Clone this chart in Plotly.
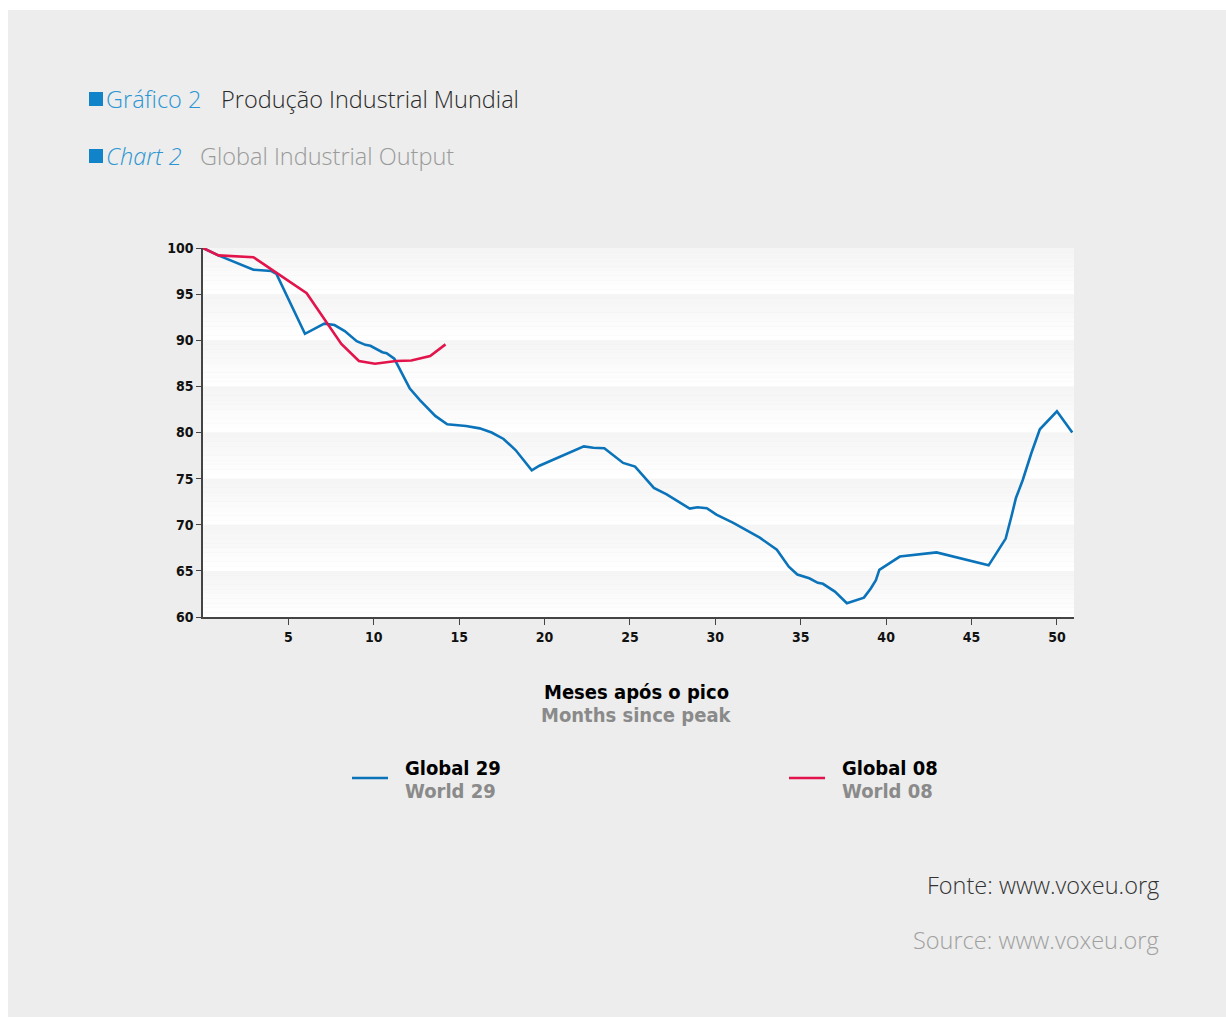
import plotly.graph_objects as go

# ---------------- data ----------------
months_29 = [0, 0.9, 2.95, 4.0, 4.3, 5.97, 7.1, 7.7, 8.3, 9.0, 9.5, 9.8, 10.5, 10.75,
             11.2, 12.1, 12.7, 13.6, 14.3, 15.4, 16.2, 16.9, 17.6, 18.3, 19.25, 19.7,
             22.3, 22.85, 23.5, 24.6, 25.3, 26.4, 27.15, 28.5, 28.95, 29.5, 30.06,
             31.05, 32.6, 33.6, 34.3, 34.8, 35.5, 36.0, 36.3, 37.0, 37.7, 38.7, 39.1,
             39.4, 39.6, 40.8, 42.95, 46.0, 46.45, 47.0, 47.35, 47.6, 48.0, 48.5,
             49.0, 50.0, 50.9]
world_29 = [100, 99.2, 97.65, 97.5, 97.2, 90.7, 91.8, 91.65, 91.0, 89.9, 89.5, 89.4,
            88.7, 88.6, 88.0, 84.8, 83.5, 81.8, 80.9, 80.7, 80.45, 80.0, 79.3, 78.1,
            75.9, 76.4, 78.5, 78.35, 78.3, 76.7, 76.3, 74.0, 73.3, 71.75, 71.9, 71.8,
            71.1, 70.2, 68.6, 67.3, 65.45, 64.6, 64.2, 63.7, 63.6, 62.75, 61.5, 62.1,
            63.1, 64.0, 65.1, 66.55, 67.0, 65.6, 66.9, 68.5, 71.0, 72.9, 74.85,
            77.75, 80.35, 82.3, 80.0]

months_08 = [0, 0.9, 2.95, 6.07, 8.1, 9.13, 10.07, 11.3, 12.2, 13.3, 14.2]
world_08 = [100, 99.2, 99.0, 95.1, 89.6, 87.75, 87.45, 87.75, 87.8, 88.3, 89.55]

y_ticks = [60, 65, 70, 75, 80, 85, 90, 95, 100]
x_ticks = [5, 10, 15, 20, 25, 30, 35, 40, 45, 50]

# ---------------- layout geometry ----------------
W, H = 1226, 1017
L, R, T, B = 203, 1074, 248, 617
PW, PH = R - L, B - T


def px(x):
    return (x - L) / PW


def py(y):
    return (B - y) / PH


BLUE = "#0b73ba"
RED = "#e3134b"
TITLE_BLUE = "#2b95d3"
BG = "#ecedec"
BOLD_FONT = "Liberation Sans Narrow, DejaVu Sans Condensed, Arial Narrow, sans-serif"
LIGHT_FONT = "Open Sans, Roboto, Liberation Sans, sans-serif"

fig = go.Figure()
fig.add_trace(go.Scatter(x=months_29, y=world_29, mode="lines",
                         line=dict(color=BLUE, width=2.6), name="World 29",
                         showlegend=False))
fig.add_trace(go.Scatter(x=months_08, y=world_08, mode="lines",
                         line=dict(color=RED, width=2.6), name="World 08",
                         showlegend=False))

shapes = []
# gray background panel (white border top/left)
shapes.append(dict(type="rect", xref="paper", yref="paper",
                   x0=px(8), x1=px(W + 5), y0=py(H + 5), y1=py(10),
                   fillcolor=BG, line=dict(width=0), layer="below"))

# banded plot background with vertical fade inside each band
n_strips = 10
for i in range(len(y_ticks) - 1):
    lo, hi = y_ticks[i], y_ticks[i + 1]
    for k in range(n_strips):
        frac = k / (n_strips - 1)  # 0 bottom -> 1 top
        g = int(round(255 - 10 * frac))
        col = f"rgb({g},{g},{g})"
        y0 = lo + (hi - lo) * k / n_strips
        y1 = lo + (hi - lo) * (k + 1) / n_strips
        shapes.append(dict(type="rect", xref="x", yref="y", x0=0, x1=51,
                           y0=y0, y1=y1, fillcolor=col, line=dict(width=0),
                           layer="below"))

# legend line samples
shapes.append(dict(type="line", xref="paper", yref="paper",
                   x0=px(352), x1=px(388), y0=py(778), y1=py(778),
                   line=dict(color=BLUE, width=2.6)))
shapes.append(dict(type="line", xref="paper", yref="paper",
                   x0=px(789), x1=px(825), y0=py(778), y1=py(778),
                   line=dict(color=RED, width=2.6)))
# title squares
for yc in (99, 156):
    shapes.append(dict(type="rect", xref="paper", yref="paper",
                       x0=px(89), x1=px(103), y0=py(yc + 7), y1=py(yc - 7),
                       fillcolor="#1183c9", line=dict(width=0)))

ann = []


def text(x, y, s, size, color, family, xanchor="left", weight=None, style=None):
    f = dict(size=size, color=color, family=family)
    if weight:
        f["weight"] = weight
    if style:
        f["style"] = style
    ann.append(dict(x=px(x), y=py(y), xref="paper", yref="paper", text=s,
                    showarrow=False, xanchor=xanchor, yanchor="middle",
                    font=f))


text(104, 99, "Gráfico 2", 23.5, TITLE_BLUE, LIGHT_FONT, weight=300)
text(219, 99, "Produção Industrial Mundial", 23.5, "#2a2a2a", LIGHT_FONT, weight=300)
text(104, 156, "Chart 2", 23.5, TITLE_BLUE, LIGHT_FONT, weight=300, style="italic")
text(198, 156, "Global Industrial Output", 23.5, "#9a9a9a", LIGHT_FONT, weight=300)

text(636, 692, "Meses após o pico", 20, "#000000", BOLD_FONT, xanchor="center", weight=700)
text(636, 715, "Months since peak", 20, "#8a8a8a", BOLD_FONT, xanchor="center", weight=700)

text(403, 768, "Global 29", 20, "#000000", BOLD_FONT, weight=700)
text(403, 791, "World 29", 20, "#8a8a8a", BOLD_FONT, weight=700)
text(840, 768, "Global 08", 20, "#000000", BOLD_FONT, weight=700)
text(840, 791, "World 08", 20, "#8a8a8a", BOLD_FONT, weight=700)

text(1161, 885, "Fonte: www.voxeu.org", 23.5, "#333333", LIGHT_FONT, xanchor="right", weight=300)
text(1161, 940, "Source: www.voxeu.org", 23.5, "#a0a0a0", LIGHT_FONT, xanchor="right", weight=300)

fig.update_layout(
    width=W, height=H,
    margin=dict(l=L, r=W - R, t=T, b=H - B, pad=0),
    paper_bgcolor="white",
    plot_bgcolor="white",
    shapes=shapes,
    annotations=ann,
    showlegend=False,
    xaxis=dict(range=[0, 51], tickvals=x_ticks, showgrid=False, zeroline=False,
               showline=True, linecolor="#444444", linewidth=1.5,
               ticks="outside", ticklen=6, tickcolor="#444444",
               tickfont=dict(family=BOLD_FONT, size=14, color="#111111", weight=700),
               fixedrange=True),
    yaxis=dict(range=[60, 100], tickvals=y_ticks, showgrid=False, zeroline=False,
               showline=True, linecolor="#444444", linewidth=1.5,
               ticks="outside", ticklen=5, tickcolor="#444444",
               tickfont=dict(family=BOLD_FONT, size=14, color="#111111", weight=700),
               fixedrange=True),
)

fig.write_html("out.html", config={"displayModeBar": False})
